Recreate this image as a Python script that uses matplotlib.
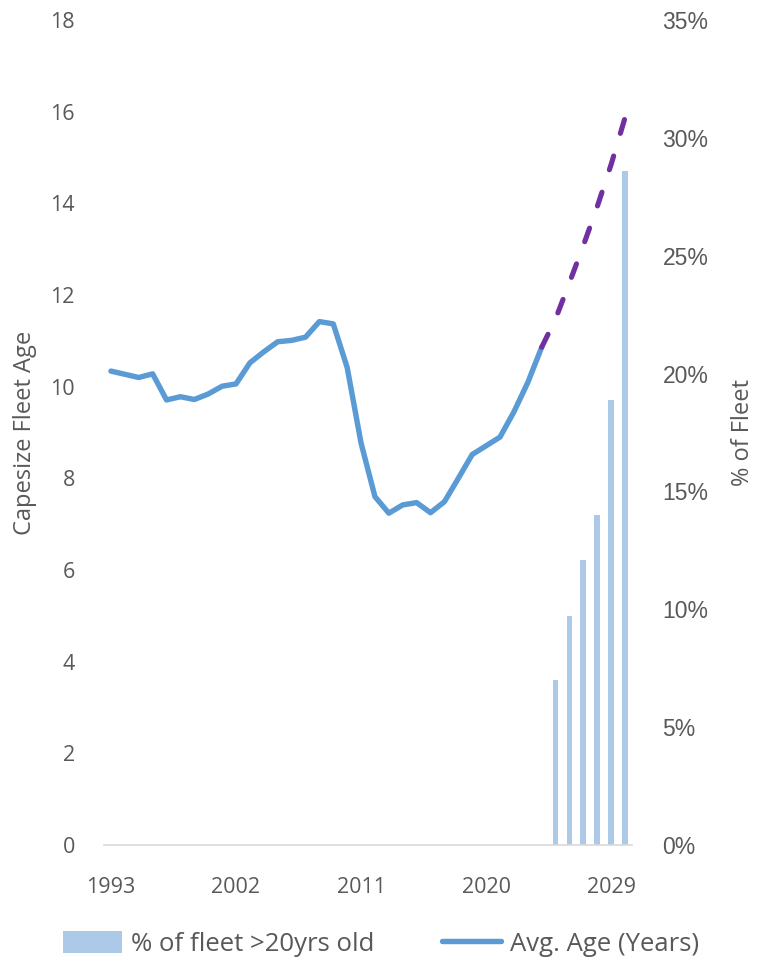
import matplotlib
matplotlib.use("Agg")
import matplotlib.pyplot as plt
from matplotlib.patches import Patch
from matplotlib.lines import Line2D

# Historical average age of the Capesize fleet (years)
hist_years = list(range(1993, 2025))
hist_age = [10.34, 10.27, 10.20, 10.28, 9.71, 9.78, 9.72, 9.84, 10.01, 10.06,
            10.52, 10.76, 10.98, 11.01, 11.08, 11.42, 11.37, 10.42, 8.77, 7.60,
            7.24, 7.42, 7.47, 7.25, 7.49, 8.00, 8.52, 8.71, 8.90, 9.45,
            10.09, 10.86]

# Projected average age
proj_years = list(range(2024, 2031))
proj_age = [10.86, 11.48, 12.27, 13.08, 13.93, 14.85, 15.87]

# Share of fleet older than 20 years (%)
bar_years = list(range(2025, 2031))
bar_pct = [7.0, 9.7, 12.1, 14.0, 18.9, 28.6]

tick_years = [1993, 2002, 2011, 2020, 2029]

TXT = "#595959"
FONT = "Open Sans"
plt.rcParams["font.family"] = [FONT, "DejaVu Sans"]

W, H = 762, 960
fig = plt.figure(figsize=(W / 100, H / 100), dpi=100)
ax_left, ax_w = 104, 528
ax = fig.add_axes([ax_left / W, 115 / H, ax_w / W, 825 / H])
ax2 = ax.twinx()

# bars on the secondary axis, behind the line
ax.set_zorder(2)
ax.patch.set_visible(False)
ax2.bar(bar_years, bar_pct, width=0.42, color="#ADC9E8", zorder=1)

ax.plot(hist_years, hist_age, color="#5B9BD5", lw=3.9,
        solid_capstyle="round", solid_joinstyle="round", zorder=3)
ax.plot(proj_years, proj_age, color="#7030A0", lw=3.7,
        dashes=(2.8, 4.6), dash_capstyle="round", zorder=4)

ax.set_xlim(1992.5, 2030.5)
ax.set_ylim(0, 18)
ax2.set_ylim(0, 35)
ax.set_yticks(range(0, 19, 2))
ax2.set_yticks(range(0, 36, 5))
ax2.set_yticklabels([f"{v}%" for v in range(0, 36, 5)],
                    family=["Liberation Sans", "DejaVu Sans"])
ax.set_xticks(tick_years)

for a in (ax, ax2):
    for s in a.spines.values():
        s.set_visible(False)
ax.spines["bottom"].set_visible(True)
ax.spines["bottom"].set_color("#D9D9D9")
ax.spines["bottom"].set_linewidth(1.2)

ax.tick_params(axis="y", length=0, pad=21, labelsize=15.5, labelcolor=TXT)
ax2.tick_params(axis="y", length=0, pad=22, labelsize=16.5, labelcolor=TXT)
ax.tick_params(axis="x", length=0, pad=23, labelsize=15.5, labelcolor=TXT)

ax.set_ylabel("Capesize Fleet Age", fontsize=17, color=TXT,
              ha="center", va="center")
ax.yaxis.set_label_coords((25 - ax_left) / ax_w, 0.5)
ax2.set_ylabel("% of Fleet", fontsize=17, color=TXT,
               ha="center", va="center")
ax2.yaxis.set_label_position("right")
ax2.yaxis.set_label_coords((731 - ax_left) / ax_w, 0.5)

handles = [
    Patch(facecolor="#ADC9E8", edgecolor="none"),
    Line2D([0], [0], color="#5B9BD5", lw=3.9, solid_capstyle="round"),
]
labels = ["% of fleet >20yrs old", "Avg. Age (Years)"]
fig.legend(handles, labels, loc="center", bbox_to_anchor=(0.5, 16 / H),
           ncol=2, frameon=False, fontsize=18.5, labelcolor=TXT,
           handlelength=2.3, handleheight=0.9, handletextpad=0.35,
           columnspacing=2.6)

fig.savefig("out.png", dpi=100)
